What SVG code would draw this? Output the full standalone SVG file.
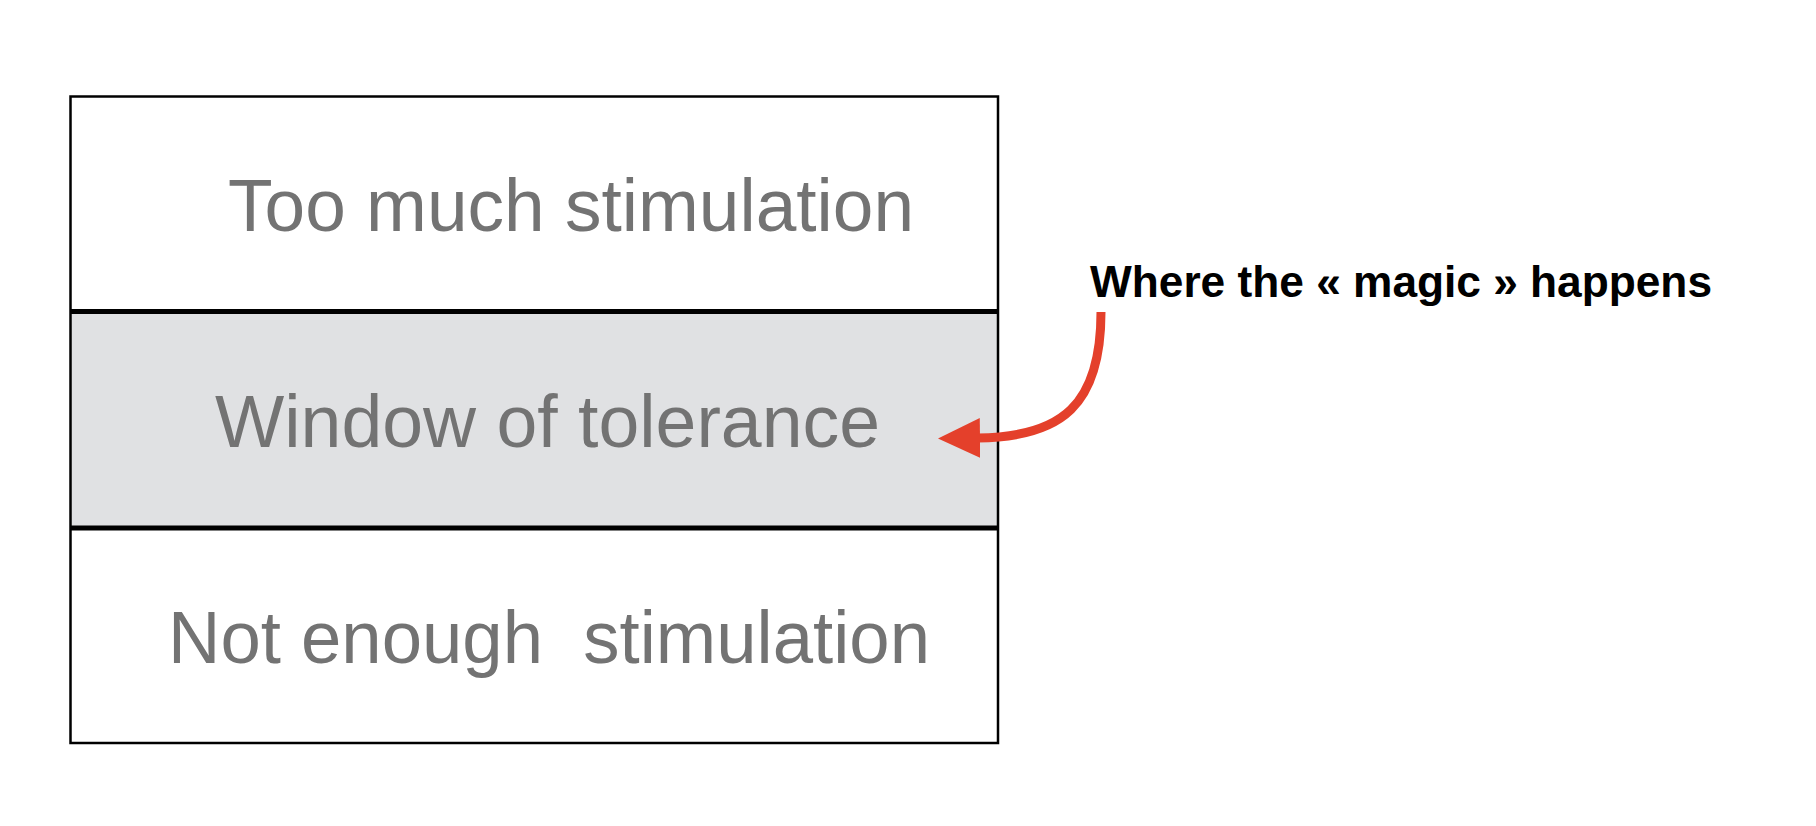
<svg xmlns="http://www.w3.org/2000/svg" width="1816" height="826" viewBox="0 0 1816 826">
<style>
.band{stroke:none}
.lbl{font-family:"Liberation Sans",Arial,sans-serif;font-size:75px;fill:#737373}
.note{font-family:"Liberation Sans",Arial,sans-serif;font-size:44px;font-weight:bold;fill:#000}
.sep{stroke:#000;stroke-width:5}
.conn{fill:none;stroke:#e4402b;stroke-width:9}
</style>
<defs>
<marker id="ah" markerUnits="userSpaceOnUse" markerWidth="46" markerHeight="46" viewBox="0 -23 46 46" refX="2" refY="0" orient="auto">
<path d="M0,-20 L42,0 L0,20 Z" fill="#e4402b"/>
</marker>
</defs>
<rect width="1816" height="826" fill="#fff"/>
<g id="too-much">
<rect class="band" x="70.5" y="96.5" width="927.5" height="215" fill="#fff"/>
<text class="lbl" x="228" y="231" textLength="686" lengthAdjust="spacingAndGlyphs">Too much stimulation</text>
</g>
<g id="window">
<rect class="band" x="70.5" y="311.5" width="927.5" height="216.5" fill="#e0e1e3"/>
<text class="lbl" x="215" y="447" textLength="665" lengthAdjust="spacingAndGlyphs">Window of tolerance</text>
</g>
<g id="not-enough">
<rect class="band" x="70.5" y="528" width="927.5" height="215" fill="#fff"/>
<text class="lbl" x="168" y="662.5" textLength="762" lengthAdjust="spacingAndGlyphs" xml:space="preserve">Not enough  stimulation</text>
</g>
<g id="frame">
<rect x="70.5" y="96.5" width="927.5" height="646.5" fill="none" stroke="#000" stroke-width="2.5"/>
<line class="sep" x1="70.5" y1="311.5" x2="998" y2="311.5"/>
<line class="sep" x1="70.5" y1="528" x2="998" y2="528"/>
</g>
<g id="magic-note">
<text class="note" x="1090" y="296.5" textLength="622" lengthAdjust="spacingAndGlyphs">Where the « magic » happens</text>
</g>
<g id="connectors">
<path class="conn" d="M1101,312 C1101,405 1062,437 978,438" marker-end="url(#ah)"/>
</g>
</svg>
